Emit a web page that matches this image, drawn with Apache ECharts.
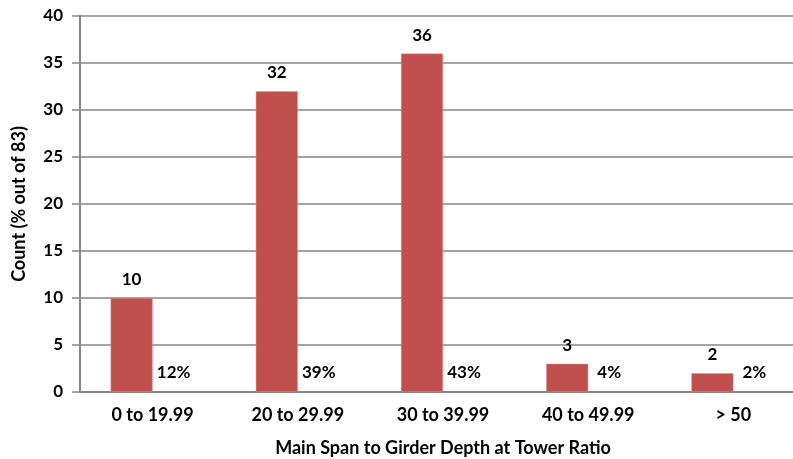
<!DOCTYPE html>
<html>
<head>
<meta charset="utf-8">
<script src="https://cdn.jsdelivr.net/npm/echarts@6/dist/echarts.min.js"></script>
<style>
  html, body { margin: 0; padding: 0; background: #fff; }
  #main { width: 793px; height: 459px; }
</style>
</head>
<body>
<div id="main"></div>
<script>
// 数据
var categories = ["0 to 19.99", "20 to 29.99", "30 to 39.99", "40 to 49.99", "> 50"];
var counts = [10, 32, 36, 3, 2];
var percents = [12, 39, 43, 4, 2];
var yTicks = [0, 5, 10, 15, 20, 25, 30, 35, 40];

var chart = echarts.init(document.getElementById("main"));

var font = "Lato, 'Liberation Sans', sans-serif";

var option = {
  animation: false,
  textStyle: { fontFamily: font },
  grid: {
    left: 80,
    top: 16,
    width: 726,
    height: 376,
    outerBoundsMode: "none",
    containLabel: false,
  },
  xAxis: {
    type: "category",
    data: categories,
    name: "Main Span to Girder Depth at Tower Ratio",
    nameLocation: "middle",
    nameGap: 47,
    nameTextStyle: { fontFamily: font, fontWeight: "bold", fontSize: 18, color: "#000" },
    axisLine: { lineStyle: { color: "#868686", width: 2 } },
    axisTick: { show: false },
    axisLabel: { fontFamily: font, fontWeight: "bold", fontSize: 18, color: "#000", margin: 14 },
  },
  yAxis: {
    type: "value",
    min: yTicks[0],
    max: yTicks[yTicks.length - 1],
    interval: 5,
    name: "Count (% out of 83)",
    nameLocation: "middle",
    nameGap: 52,
    nameTextStyle: { fontFamily: font, fontWeight: "bold", fontSize: 18, color: "#000" },
    axisLine: { show: true, lineStyle: { color: "#868686", width: 2 } },
    axisTick: { show: true, length: 8, lineStyle: { color: "#868686", width: 1.5 } },
    axisLabel: { fontFamily: font, fontWeight: "bold", fontSize: 17, color: "#000", margin: 17 },
    splitLine: { lineStyle: { color: "#868686", width: 1.5 } },
  },
  series: [
    {
      name: "count",
      type: "bar",
      data: counts,
      barWidth: 42,
      barGap: "0%",
      itemStyle: { color: "#C0504D", borderColor: "#D99694", borderWidth: 0.5 },
      label: {
        show: true,
        position: "top",
        distance: 10,
        fontFamily: font,
        fontWeight: "bold",
        fontSize: 17,
        color: "#000",
      },
    },
    {
      name: "percent",
      type: "bar",
      data: percents,
      barWidth: 42,
      itemStyle: { color: "rgba(0,0,0,0)" },
      label: {
        show: true,
        position: "insideBottom",
        distance: 11,
        formatter: "{c}%",
        fontFamily: font,
        fontWeight: "bold",
        fontSize: 17,
        color: "#000",
      },
    },
  ],
};

chart.setOption(option);
</script>
</body>
</html>
